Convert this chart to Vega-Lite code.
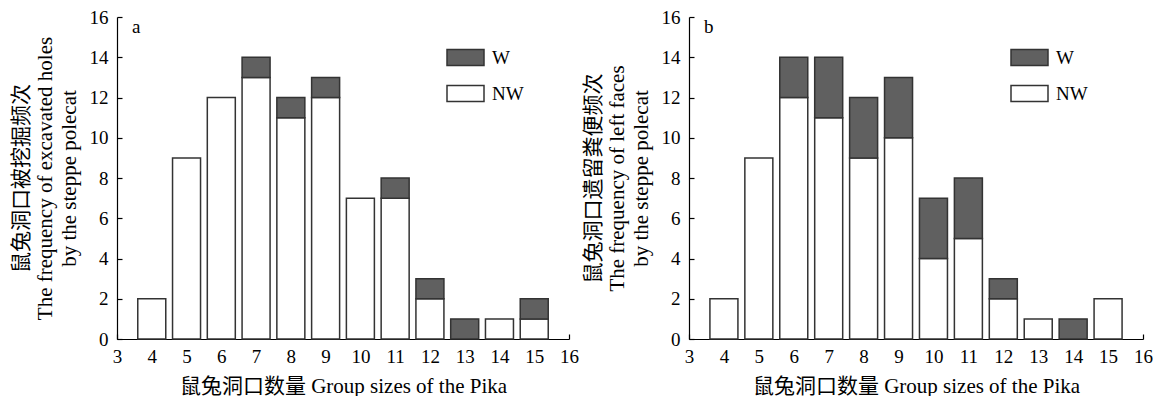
{
  "$schema": "https://vega.github.io/schema/vega-lite/v6.json",
  "padding": {"left": 10, "top": 8, "right": 0, "bottom": 0},
  "config": {
    "font": "Liberation Serif, Noto Sans CJK SC",
    "view": {"stroke": null},
    "axis": {
      "grid": false,
      "domainColor": "#000",
      "domainWidth": 1.2,
      "tickColor": "#000",
      "tickWidth": 1.2,
      "tickSize": -5,
      "labelColor": "#000",
      "titleColor": "#000",
      "labelFont": "Liberation Serif",
      "labelFontSize": 19,
      "labelOverlap": false,
      "labelFlush": false,
      "titleFont": "Liberation Serif, Noto Sans CJK SC",
      "titleFontSize": 21,
      "titleFontWeight": "normal"
    },
    "axisY": {"titleLineHeight": 24, "titlePadding": 10, "labelPadding": 14},
    "axisX": {"titlePadding": 9, "labelPadding": 13},
    "title": {
      "anchor": "start",
      "frame": "group",
      "offset": -29,
      "dx": 15,
      "baseline": "alphabetic",
      "font": "Liberation Serif",
      "fontSize": 19,
      "fontWeight": "normal",
      "color": "#000"
    },
    "legend": {
      "orient": "none",
      "title": null,
      "padding": 0,
      "symbolType": "M-1,-0.43H1V0.43H-1Z",
      "symbolSize": 1369,
      "symbolStrokeColor": "#333",
      "symbolStrokeWidth": 1.5,
      "symbolOpacity": 1,
      "labelFont": "Liberation Serif",
      "labelFontSize": 19,
      "labelColor": "#000",
      "labelOffset": 7,
      "rowPadding": 5
    }
  },
  "datasets": {
    "a": [
      {"size": 4, "type": "NW", "count": 2},
      {"size": 5, "type": "NW", "count": 9},
      {"size": 6, "type": "NW", "count": 12},
      {"size": 7, "type": "NW", "count": 13},
      {"size": 7, "type": "W", "count": 1},
      {"size": 8, "type": "NW", "count": 11},
      {"size": 8, "type": "W", "count": 1},
      {"size": 9, "type": "NW", "count": 12},
      {"size": 9, "type": "W", "count": 1},
      {"size": 10, "type": "NW", "count": 7},
      {"size": 11, "type": "NW", "count": 7},
      {"size": 11, "type": "W", "count": 1},
      {"size": 12, "type": "NW", "count": 2},
      {"size": 12, "type": "W", "count": 1},
      {"size": 13, "type": "W", "count": 1},
      {"size": 14, "type": "NW", "count": 1},
      {"size": 15, "type": "NW", "count": 1},
      {"size": 15, "type": "W", "count": 1}
    ],
    "b": [
      {"size": 4, "type": "NW", "count": 2},
      {"size": 5, "type": "NW", "count": 9},
      {"size": 6, "type": "NW", "count": 12},
      {"size": 6, "type": "W", "count": 2},
      {"size": 7, "type": "NW", "count": 11},
      {"size": 7, "type": "W", "count": 3},
      {"size": 8, "type": "NW", "count": 9},
      {"size": 8, "type": "W", "count": 3},
      {"size": 9, "type": "NW", "count": 10},
      {"size": 9, "type": "W", "count": 3},
      {"size": 10, "type": "NW", "count": 4},
      {"size": 10, "type": "W", "count": 3},
      {"size": 11, "type": "NW", "count": 5},
      {"size": 11, "type": "W", "count": 3},
      {"size": 12, "type": "NW", "count": 2},
      {"size": 12, "type": "W", "count": 1},
      {"size": 13, "type": "NW", "count": 1},
      {"size": 14, "type": "W", "count": 1},
      {"size": 15, "type": "NW", "count": 2}
    ]
  },
  "spacing": 3,
  "resolve": {"scale": {"fill": "independent"}, "legend": {"fill": "independent"}},
  "hconcat": [
    {
      "width": 452,
      "height": 322,
      "title": "a",
      "data": {"name": "a"},
      "mark": {"type": "bar", "width": 28, "stroke": "#333", "strokeWidth": 1.5},
      "encoding": {
        "x": {"field": "size", "type": "quantitative", "scale": {"domain": [3, 16], "nice": false, "padding": 0},
          "axis": {"values": [3,4,5,6,7,8,9,10,11,12,13,14,15,16], "format": "d", "labelOverlap": false, "title": "鼠兔洞口数量 Group sizes of the Pika"}},
        "y": {"field": "count", "type": "quantitative", "stack": "zero", "scale": {"domain": [0, 16], "nice": false, "padding": 0},
          "axis": {"values": [0,2,4,6,8,10,12,14,16], "labelOverlap": false, "title": ["鼠兔洞口被挖掘频次", "The frequency of excavated holes", "by  the steppe polecat"]}},
        "fill": {"field": "type", "type": "nominal", "scale": {"domain": ["W", "NW"], "range": ["#606060", "#ffffff"]},
          "legend": {"legendX": 329, "legendY": 21}},
        "order": {"field": "type", "sort": "ascending"}
      }
    },
    {
      "width": 454,
      "height": 322,
      "title": "b",
      "data": {"name": "b"},
      "mark": {"type": "bar", "width": 28, "stroke": "#333", "strokeWidth": 1.5},
      "encoding": {
        "x": {"field": "size", "type": "quantitative", "scale": {"domain": [3, 16], "nice": false, "padding": 0},
          "axis": {"values": [3,4,5,6,7,8,9,10,11,12,13,14,15,16], "format": "d", "labelOverlap": false, "title": "鼠兔洞口数量 Group sizes of the Pika"}},
        "y": {"field": "count", "type": "quantitative", "stack": "zero", "scale": {"domain": [0, 16], "nice": false, "padding": 0},
          "axis": {"values": [0,2,4,6,8,10,12,14,16], "labelOverlap": false, "title": ["鼠兔洞口遗留粪便频次", "The frequency of left faces", "by  the steppe polecat"]}},
        "fill": {"field": "type", "type": "nominal", "scale": {"domain": ["W", "NW"], "range": ["#606060", "#ffffff"]},
          "legend": {"legendX": 321, "legendY": 21}},
        "order": {"field": "type", "sort": "ascending"}
      }
    }
  ]
}
